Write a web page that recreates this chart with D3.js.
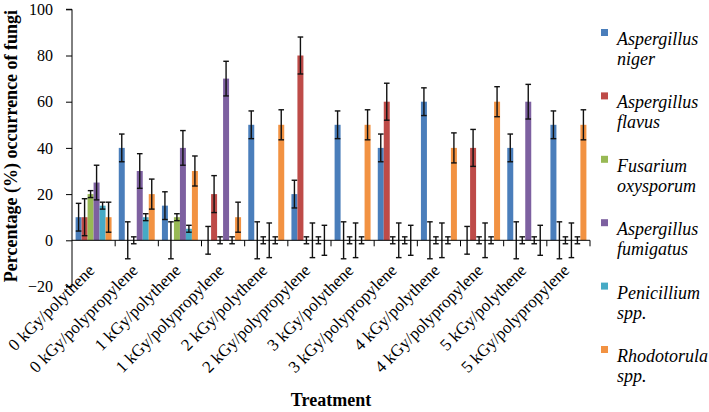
<!DOCTYPE html>
<html>
<head>
<meta charset="utf-8">
<script src="https://cdn.jsdelivr.net/npm/d3@7"></script>
<style>
  html, body { margin: 0; padding: 0; background: #fff; }
  svg { display: block; }
  svg text { font-family: "Liberation Serif", serif; }
</style>
</head>
<body>
<svg id="chart" width="709" height="412"></svg>
<script>
const categories = [
  "0 kGy/polythene", "0 kGy/polypropylene",
  "1 kGy/polythene", "1 kGy/polypropylene",
  "2 kGy/polythene", "2 kGy/polypropylene",
  "3 kGy/polythene", "3 kGy/polypropylene",
  "4 kGy/polythene", "4 kGy/polypropylene",
  "5 kGy/polythene", "5 kGy/polypropylene"
];
const seriesNames = [
  ["Aspergillus", "niger"],
  ["Aspergillus", "flavus"],
  ["Fusarium", "oxysporum"],
  ["Aspergillus", "fumigatus"],
  ["Penicillium", "spp."],
  ["Rhodotorula", "spp."]
];
const seriesColors = ["#4A7EBB", "#BE4B48", "#98B954", "#7D60A0", "#46AAC5", "#F29242"];

const nigerValues      = [10, 40, 15, 0, 50, 20, 50, 40, 60, 0, 40, 50];
const flavusValues     = [10, 0, 0, 20, 0, 80, 0, 60, 0, 40, 0, 0];
const oxysporumValues  = [20, 0, 10, 0, 0, 0, 0, 0, 0, 0, 0, 0];
const fumigatusValues  = [25, 30, 40, 70, 0, 0, 0, 0, 0, 0, 60, 0];
const penicilliumValues= [15, 10, 5, 0, 0, 0, 0, 0, 0, 0, 0, 0];
const rhodotorulaValues= [10, 20, 30, 10, 50, 0, 50, 0, 40, 60, 0, 50];

const nigerErrors      = [6, 6, 6, 6, 6, 6, 6, 6, 6, 6, 6, 6];
const flavusErrors     = [8, 8, 8, 8, 8, 8, 8, 8, 8, 8, 8, 8];
const oxysporumErrors  = [1.5, 1.5, 1.5, 1.5, 1.5, 1.5, 1.5, 1.5, 1.5, 1.5, 1.5, 1.5];
const fumigatusErrors  = [7.5, 7.5, 7.5, 7.5, 7.5, 7.5, 7.5, 7.5, 7.5, 7.5, 7.5, 7.5];
const penicilliumErrors= [1.5, 1.5, 1.5, 1.5, 1.5, 1.5, 1.5, 1.5, 1.5, 1.5, 1.5, 1.5];
const rhodotorulaErrors= [6.5, 6.5, 6.5, 6.5, 6.5, 6.5, 6.5, 6.5, 6.5, 6.5, 6.5, 6.5];

const yTicks = [-20, 0, 20, 40, 60, 80, 100];
const yTickLabels = ["\u221220", "0", "20", "40", "60", "80", "100"];
const yTitle = "Percentage (%) occurrence of fungi";
const xTitle = "Treatment";

const allValues = [nigerValues, flavusValues, oxysporumValues, fumigatusValues, penicilliumValues, rhodotorulaValues];
const allErrors = [nigerErrors, flavusErrors, oxysporumErrors, fumigatusErrors, penicilliumErrors, rhodotorulaErrors];

const FONT = "Liberation Serif, serif";
const svg = d3.select("#chart");
const plotLeft = 72, plotRight = 590, plotTop = 9.3, plotBottom = 286.5;

const x0 = d3.scaleBand().domain(categories).range([plotLeft, plotRight]).paddingInner(0).paddingOuter(0);
const x1 = d3.scaleBand().domain(d3.range(6)).range([0, x0.bandwidth()]).paddingInner(0).paddingOuter(0.6);
const y = d3.scaleLinear().domain([-20, 100]).range([plotBottom, plotTop]);

// bars
const groups = svg.append("g").selectAll("g").data(categories).join("g")
  .attr("transform", d => `translate(${x0(d)},0)`);

groups.each(function(cat, ci) {
  const g = d3.select(this);
  for (let s = 0; s < 6; s++) {
    const v = allValues[s][ci];
    if (v > 0) {
      g.append("rect")
        .attr("x", x1(s))
        .attr("width", x1.bandwidth())
        .attr("y", y(v))
        .attr("height", y(0) - y(v))
        .attr("fill", seriesColors[s]);
    }
  }
});

// zero axis line with category tick marks
svg.append("line").attr("x1", plotLeft).attr("x2", plotRight)
  .attr("y1", y(0)).attr("y2", y(0)).attr("stroke", "#000").attr("stroke-width", 1);
const boundaries = categories.map(c => x0(c) + x0.bandwidth());
svg.append("g").selectAll("line").data(boundaries).join("line")
  .attr("x1", d => d).attr("x2", d => d)
  .attr("y1", y(0)).attr("y2", y(0) + 6)
  .attr("stroke", "#000").attr("stroke-width", 1);

// error bars
groups.each(function(cat, ci) {
  const g = d3.select(this);
  for (let s = 0; s < 6; s++) {
    const v = allValues[s][ci], e = allErrors[s][ci];
    const cx = x1(s) + x1.bandwidth() / 2;
    const eg = g.append("g").attr("stroke", "#111").attr("stroke-width", 1.4);
    eg.append("line").attr("x1", cx).attr("x2", cx).attr("y1", y(v + e)).attr("y2", y(v - e));
    eg.append("line").attr("x1", cx - 2.8).attr("x2", cx + 2.8).attr("y1", y(v + e)).attr("y2", y(v + e));
    eg.append("line").attr("x1", cx - 2.8).attr("x2", cx + 2.8).attr("y1", y(v - e)).attr("y2", y(v - e));
  }
});

// y axis
const yAxis = d3.axisLeft(y).tickValues(yTicks).tickSize(6).tickPadding(13)
  .tickFormat((d, i) => yTickLabels[i]);
const yg = svg.append("g").attr("transform", `translate(${plotLeft},0)`).call(yAxis);
yg.attr("font-family", FONT).attr("font-size", 16);
yg.select(".domain").attr("stroke", "#000").attr("d", `M-6,${plotTop}H0V${plotBottom}H-6`);
yg.selectAll(".tick line").attr("stroke", "#000");
yg.selectAll(".tick text").attr("fill", "#000");

// x labels
svg.append("g").selectAll("text").data(categories).join("text")
  .attr("transform", d => `translate(${x0(d) + x0.bandwidth() / 2 + 2},${y(0) + 31}) rotate(-45)`)
  .attr("text-anchor", "end")
  .attr("font-family", FONT)
  .attr("font-size", 17)
  .text(d => d);

// axis titles
svg.append("text")
  .attr("transform", `translate(17,146) rotate(-90)`)
  .attr("text-anchor", "middle")
  .attr("font-family", FONT).attr("font-size", 18).attr("font-weight", "bold")
  .text(yTitle);
svg.append("text")
  .attr("x", 331).attr("y", 406)
  .attr("text-anchor", "middle")
  .attr("font-family", FONT).attr("font-size", 18).attr("font-weight", "bold")
  .text(xTitle);

// legend
const legend = svg.append("g").selectAll("g").data(seriesNames).join("g")
  .attr("transform", (d, i) => `translate(601,${45 + i * 63.4})`);
legend.append("rect").attr("x", 0).attr("y", -16).attr("width", 7).attr("height", 7)
  .attr("fill", (d, i) => seriesColors[i]);
legend.append("text").attr("x", 16).attr("y", 0)
  .attr("font-family", FONT).attr("font-size", 18).attr("font-style", "italic")
  .text(d => d[0]);
legend.append("text").attr("x", 16).attr("y", 20)
  .attr("font-family", FONT).attr("font-size", 18).attr("font-style", "italic")
  .text(d => d[1]);
</script>
</body>
</html>
